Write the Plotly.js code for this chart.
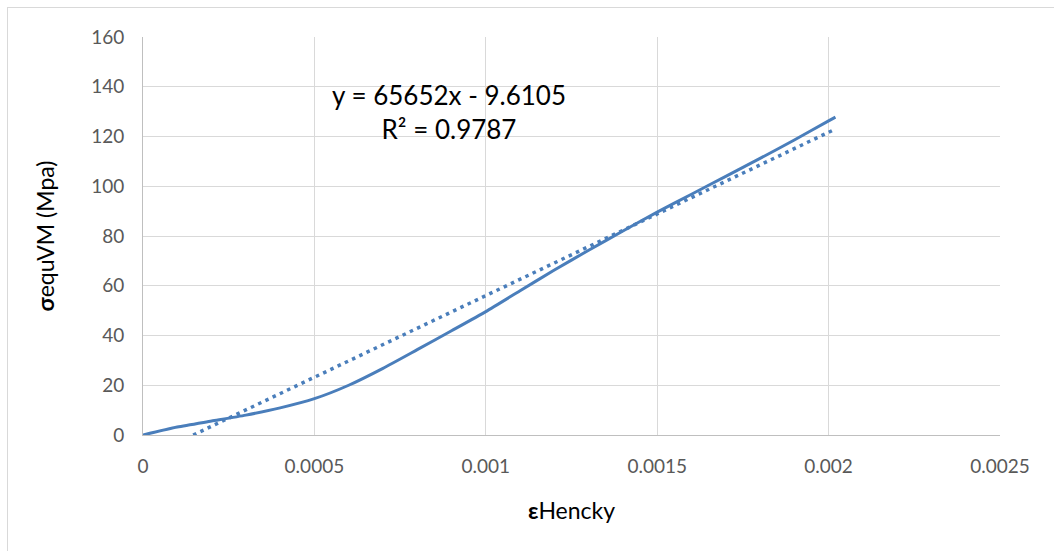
<!DOCTYPE html>
<html>
<head>
<meta charset="utf-8">
<script src="https://cdn.plot.ly/plotly-3.0.1.min.js"></script>
<style>
  html, body { margin: 0; padding: 0; background: #fff; }
  #wrap { position: relative; width: 1054px; height: 551px; }
  #chart { width: 1054px; height: 551px; }
  #frame { position: absolute; left: 7px; top: 7px; right: 0; bottom: 0;
           border-top: 1px solid #d9d9d9; border-left: 1px solid #d9d9d9; pointer-events: none; }
</style>
</head>
<body>
<div id="wrap"><div id="chart"></div><div id="frame"></div></div>
<script>
// Measured stress-strain curve
const strain = [0, 0.0001, 0.0002, 0.0003, 0.0004, 0.0005, 0.0006, 0.0007, 0.0008, 0.0009, 0.001,
                0.0011, 0.0012, 0.0013, 0.0014, 0.0015, 0.0016, 0.0017, 0.0018, 0.0019, 0.002, 0.00202];
const stress = [0, 3.2, 5.6, 8.0, 10.9, 14.6, 20.0, 26.8, 34.3, 41.9, 49.6,
                58.0, 66.3, 74.3, 82.0, 89.6, 96.8, 104.0, 111.2, 118.6, 126.3, 127.8];
// Linear trendline as printed on the chart
const trendSlope = 65652;
const trendIntercept = -9.6105;
const trendLabel = ["y = 65652x - 9.6105", "R\u00B2 = 0.9787"];
const xTicks = [0, 0.0005, 0.001, 0.0015, 0.002, 0.0025];
const xTickText = ["0", "0.0005", "0.001", "0.0015", "0.002", "0.0025"];
const yTicks = [0, 20, 40, 60, 80, 100, 120, 140, 160];

const trendX = [-trendIntercept / trendSlope, strain[strain.length - 1]];
const trendY = trendX.map(x => trendSlope * x + trendIntercept);

const blue = "#4a7ebb";
const font = "Lato, 'Open Sans', sans-serif";

const data = [
  { x: strain, y: stress, type: "scatter", mode: "lines", line: { color: blue, width: 3, shape: "spline", smoothing: 0.6 }, hoverinfo: "skip" },
  { x: trendX, y: trendY, type: "scatter", mode: "lines", line: { color: blue, width: 3.5, dash: "3.5px,4.5px" }, hoverinfo: "skip" }
];

const layout = {
  width: 1054, height: 551,
  margin: { l: 143, r: 54, t: 37, b: 116 },
  paper_bgcolor: "#fff", plot_bgcolor: "#fff",
  showlegend: false,
  font: { family: font, color: "#595959", size: 19 },
  xaxis: {
    range: [0, 0.0025], tickvals: xTicks, ticktext: xTickText,
    showgrid: true, gridcolor: "#d9d9d9", gridwidth: 1,
    zeroline: false, showline: true, linecolor: "#bfbfbf", linewidth: 1,
    ticks: "", ticklen: 0, ticklabelstandoff: 14,
    tickfont: { size: 19, color: "#595959", family: font },
    title: { text: "<b>ε</b>Hencky", font: { size: 23, color: "#000", family: font }, standoff: 27 }
  },
  yaxis: {
    range: [0, 160], tickvals: yTicks,
    showgrid: true, gridcolor: "#d9d9d9", gridwidth: 1,
    zeroline: false, showline: true, linecolor: "#bfbfbf", linewidth: 1,
    ticks: "", ticklen: 0, ticklabelstandoff: 14,
    tickfont: { size: 19, color: "#595959", family: font },
    title: { text: "<b>σ</b>equVM (Mpa)", font: { size: 23, color: "#000", family: font }, standoff: 30 }
  },
  annotations: [{
    xref: "paper", yref: "paper",
    x: (449 - 143) / (1000 - 143), y: (435 - 112) / (435 - 37),
    text: trendLabel.join("<br>"), showarrow: false, align: "center",
    font: { size: 26, color: "#000", family: font }, xanchor: "center", yanchor: "middle"
  }]
};

Plotly.newPlot("chart", data, layout, { staticPlot: true, displayModeBar: false });
</script>
</body>
</html>
